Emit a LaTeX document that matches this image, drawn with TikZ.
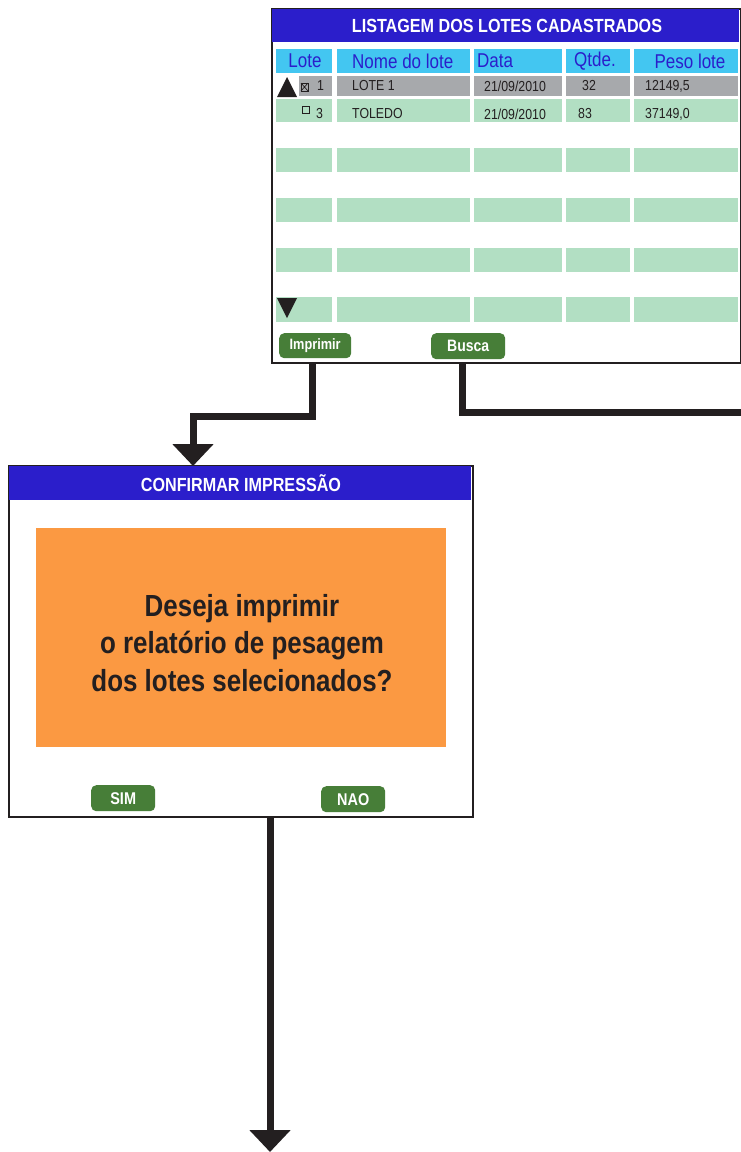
\documentclass[tikz,border=0pt]{standalone}
\usepackage{fontspec}
\setmainfont{Liberation Sans}
\newfontfamily\cond[FakeStretch=0.85]{Liberation Sans}
\usetikzlibrary{arrows.meta}
\definecolor{titleblue}{HTML}{2B1ECB}
\definecolor{headcyan}{HTML}{43C6F1}
\definecolor{rowgray}{HTML}{A7A9AC}
\definecolor{rowgreen}{HTML}{B2DFC3}
\definecolor{btngreen}{HTML}{477E38}
\definecolor{dlgorange}{HTML}{FB9942}
\definecolor{ink}{HTML}{231F20}
\tikzset{
  win/.style={draw=ink,line width=2pt,fill=white},
  titlebar/.style={fill=titleblue,draw=none},
  titletext/.style={text=white,font=\cond\bfseries\fontsize{19}{19}\selectfont},
  headcell/.style={fill=headcyan,draw=none},
  headtext/.style={text=titleblue,font=\cond\fontsize{20}{20}\selectfont,inner sep=0pt},
  celltext/.style={text=ink,font=\cond\fontsize{14.5}{14.5}\selectfont,anchor=west,inner sep=0pt},
  btn/.style={fill=btngreen,draw=none,rounded corners=5pt,text=white,
    font=\cond\bfseries\fontsize{15}{15}\selectfont,inner sep=0pt},
  conn/.style={draw=ink,line width=7pt},
  arrowconn/.style={conn,-{Triangle[width=40pt,length=22pt]}},
}
\newcommand{\cellrow}[3]{% y1 y2 color
  \fill[#3] (276,#1) rectangle (332,#2);
  \fill[#3] (337,#1) rectangle (470,#2);
  \fill[#3] (474,#1) rectangle (562,#2);
  \fill[#3] (566,#1) rectangle (630,#2);
  \fill[#3] (634,#1) rectangle (738,#2);
}
\begin{document}
\begin{tikzpicture}[x=1pt,y=-1pt]
\useasboundingbox (0,0) rectangle (741,1152);
% connectors (behind windows)
\coordinate (impfoot) at (312,360);
\coordinate (impbend) at (312,416);
\coordinate (dlgin) at (193,466);
\draw[arrowconn] (impfoot) -- (impbend) -| (dlgin);
\coordinate (busfoot) at (462,360);
\coordinate (busout) at (741,412);
\draw[conn] (busfoot) |- (busout);
\coordinate (dlgfoot) at (270,816);
\coordinate (dlgout) at (270,1152);
\draw[arrowconn] (dlgfoot) -- (dlgout);

% ---------- window 1 ----------
\node[win,minimum width=469pt,minimum height=354pt,anchor=north west,inner sep=0pt] (win1) at (271,8) {};
\fill[titlebar] (272,9) rectangle (739,42);
\node[titletext] (t1) at (507,26) {LISTAGEM DOS LOTES CADASTRADOS};
% header
\fill[headcell] (276,49) rectangle (332,73);
\fill[headcell] (337,49) rectangle (470,73);
\fill[headcell] (474,49) rectangle (562,73);
\fill[headcell] (566,49) rectangle (630,73);
\fill[headcell] (634,49) rectangle (738,73);
\node[headtext] (hl) at (305,61) {Lote};
\node[headtext,anchor=west] (hn) at (352,61) {Nome do lote};
\node[headtext,anchor=west] (hd) at (477,61) {Data};
\node[headtext] (hq) at (595,61) {Qtde.};
\node[headtext] (hp) at (690,61) {Peso lote};
% row 1
\fill[rowgray] (299,76) rectangle (332,96);
\fill[rowgray] (337,76) rectangle (470,96);
\fill[rowgray] (474,76) rectangle (562,96);
\fill[rowgray] (566,76) rectangle (630,96);
\fill[rowgray] (634,76) rectangle (738,96);
\fill[ink] (277,97) -- (297,97) -- (287,77) -- cycle;
\draw[ink,line width=0.8pt] (301,83) rectangle (308,91);
\draw[ink,line width=0.7pt] (301,83) -- (308,91) (301,91) -- (308,83);
\node[celltext] (r1a) at (317,86) {1};
\node[celltext] (r1b) at (352,86) {LOTE 1};
\node[celltext] (r1c) at (484,86) {21/09/2010};
\node[celltext] (r1d) at (582,86) {32};
\node[celltext] (r1e) at (645,86) {12149,5};
% row 2
\cellrow{99}{122}{rowgreen}
\draw[ink,line width=0.8pt] (302,106) rectangle (309,113);
\node[celltext] (r2a) at (316,114) {3};
\node[celltext] (r2b) at (352,114) {TOLEDO};
\node[celltext] (r2c) at (484,114) {21/09/2010};
\node[celltext] (r2d) at (578,114) {83};
\node[celltext] (r2e) at (645,114) {37149,0};
% empty rows
\cellrow{148}{172}{rowgreen}
\cellrow{198}{222}{rowgreen}
\cellrow{248}{272}{rowgreen}
\cellrow{297}{322}{rowgreen}
\fill[ink] (277,298) -- (297,298) -- (287,318) -- cycle;
% buttons
\node[btn,minimum width=72pt,minimum height=25pt,anchor=north west] (imp) at (279,333) {Imprimir};
\node[btn,minimum width=74pt,minimum height=26pt,anchor=north west,
  font=\cond\bfseries\fontsize{16.5}{16.5}\selectfont] (bus) at (431,333) {Busca};

% ---------- window 2 ----------
\node[win,minimum width=464pt,minimum height=351pt,anchor=north west,inner sep=0pt] (win2) at (8,465) {};
\fill[titlebar] (9,466) rectangle (471,500);
\node[titletext] (t2) at (241,483) {CONFIRMAR IMPRESSÃO};
\node[fill=dlgorange,minimum width=410pt,minimum height=219pt,anchor=north west,inner sep=0pt] (msgbox) at (36,528) {};
\node[text=ink,align=center,font=\cond\bfseries\fontsize{30.5}{37.5}\selectfont] (msg) at (242,643)
  {Deseja imprimir\\o relatório de pesagem\\dos lotes selecionados?};
\node[btn,minimum width=64pt,minimum height=26pt,anchor=north west,
  font=\cond\bfseries\fontsize{17}{17}\selectfont] (sim) at (91,785) {SIM};
\node[btn,minimum width=64pt,minimum height=26pt,anchor=north west,
  font=\cond\bfseries\fontsize{17}{17}\selectfont] (nao) at (321,786) {NAO};
\end{tikzpicture}
\end{document}
